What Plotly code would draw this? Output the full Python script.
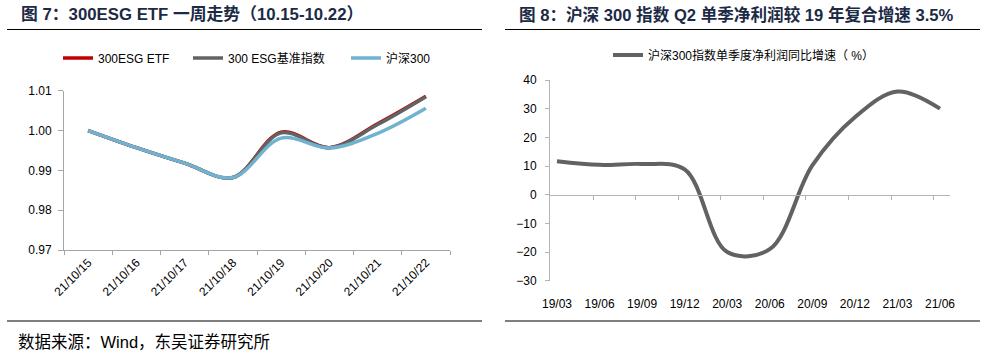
import plotly.graph_objects as go

# ---------------- data ----------------
dates = ["21/10/15", "21/10/16", "21/10/17", "21/10/18",
         "21/10/19", "21/10/20", "21/10/21", "21/10/22"]
etf = [1.0000, 0.9957, 0.9918, 0.9882, 0.9996, 0.9957, 1.0017, 1.0086]
esg_index = [1.0000, 0.9957, 0.9918, 0.9882, 0.9994, 0.9957, 1.0015, 1.0085]
hs300 = [1.0000, 0.9957, 0.9918, 0.9882, 0.9981, 0.9956, 0.9993, 1.0056]

quarters = ["19/03", "19/06", "19/09", "19/12", "20/03",
            "20/06", "20/09", "20/12", "21/03", "21/06"]
profit_growth = [11.7, 10.4, 10.7, 8.8, -20.0, -19.0, 10.2, 27.0, 36.0, 30.0]

left_title = "图 7：300ESG ETF 一周走势（10.15-10.22）"
right_title = "图 8：沪深 300 指数 Q2 单季净利润较 19 年复合增速 3.5%"
source_text = "数据来源：Wind，东吴证券研究所"

# ---------------- layout helpers ----------------
W, H = 994, 351
FONT = "Liberation Sans, Arial, Noto Sans CJK SC"
AX = "#a6a6a6"


def fx(px):
    return px / W


def fy(py):
    return 1 - py / H


fig = go.Figure()

fig.add_trace(go.Scatter(x=dates, y=etf, name="300ESG ETF", mode="lines",
                         line=dict(color="#c00000", width=3.5, shape="spline", smoothing=1),
                         xaxis="x", yaxis="y", legend="legend"))
fig.add_trace(go.Scatter(x=dates, y=esg_index, name="300 ESG基准指数", mode="lines",
                         line=dict(color="#636363", width=3.5, shape="spline", smoothing=1),
                         xaxis="x", yaxis="y", legend="legend2"))
fig.add_trace(go.Scatter(x=dates, y=hs300, name="沪深300", mode="lines",
                         line=dict(color="#6fb3d1", width=3.5, shape="spline", smoothing=1),
                         xaxis="x", yaxis="y", legend="legend3"))
fig.add_trace(go.Scatter(x=quarters, y=profit_growth, name="沪深300指数单季度净利润同比增速（ %）",
                         mode="lines",
                         line=dict(color="#626262", width=4, shape="spline", smoothing=1),
                         xaxis="x2", yaxis="y2", legend="legend4"))
# invisible helper trace so that the zero-crossing axis (x3) is drawn
fig.add_trace(go.Scatter(x=[None], y=[None], mode="lines", showlegend=False,
                         hoverinfo="skip", xaxis="x3", yaxis="y2"))

y2_range = [-30, 40]
y2_dom = [fy(280.7), fy(80)]
zero_pos = y2_dom[0] + (y2_dom[1] - y2_dom[0]) * (0 - y2_range[0]) / (y2_range[1] - y2_range[0])
x2_range = [-0.164, 9.235]

legend_common = dict(orientation="h", bgcolor="rgba(0,0,0,0)", borderwidth=0,
                     font=dict(family=FONT, size=12, color="#000000"),
                     xanchor="left", yanchor="middle")

fig.update_layout(
    width=W, height=H,
    margin=dict(l=0, r=0, t=0, b=0, autoexpand=False),
    paper_bgcolor="white", plot_bgcolor="white",
    font=dict(family=FONT, size=12, color="#000000"),
    showlegend=True,
    legend=dict(x=fx(58), y=fy(58), **legend_common),
    legend2=dict(x=fx(188), y=fy(58), **legend_common),
    legend3=dict(x=fx(346), y=fy(58), **legend_common),
    legend4=dict(x=fx(608), y=fy(55), **legend_common),
    xaxis=dict(domain=[fx(64), fx(450)], anchor="y", type="category",
               range=[-0.5, len(dates) - 0.5], automargin=False,
               showline=True, linecolor=AX, linewidth=1,
               ticks="outside", ticklen=4, tickcolor=AX, tickson="boundaries",
               tickangle=-45, showgrid=False, zeroline=False,
               tickfont=dict(family=FONT, size=12, color="#000000")),
    yaxis=dict(domain=[fy(250), fy(90.7)], anchor="x", automargin=False,
               range=[0.97, 1.01], dtick=0.01, tickformat=".2f",
               showline=True, linecolor=AX, linewidth=1,
               ticks="outside", ticklen=5, tickcolor=AX, ticklabelstandoff=4,
               showgrid=False, zeroline=False,
               tickfont=dict(family=FONT, size=12, color="#000000")),
    xaxis2=dict(domain=[fx(550), fx(950)], anchor="y2", type="category",
                range=x2_range, showline=False, ticks="", showgrid=False,
                zeroline=False, ticklabelstandoff=14, automargin=False,
                tickfont=dict(family=FONT, size=12, color="#000000")),
    xaxis3=dict(domain=[fx(550), fx(950)], anchor="free", position=zero_pos,
                overlaying="x2", type="linear", range=x2_range, automargin=False,
                showline=True, linecolor="#b3b3b3", linewidth=1,
                ticks="outside", ticklen=4, tickcolor="#b3b3b3",
                tickvals=[i + 0.85 for i in range(len(quarters) - 1)],
                showticklabels=False, showgrid=False, zeroline=False),
    yaxis2=dict(domain=y2_dom, anchor="x2", range=y2_range, dtick=10, automargin=False,
                showline=True, linecolor="#b3b3b3", linewidth=1,
                ticks="outside", ticklen=4, tickcolor="#b3b3b3", ticklabelstandoff=6,
                showgrid=False, zeroline=False,
                tickfont=dict(family=FONT, size=12, color="#000000")),
)

# titles
TITLE_COLOR = "#1c2a45"
fig.add_annotation(text="<b>" + left_title + "</b>", xref="paper", yref="paper",
                   x=fx(19), y=fy(15), xanchor="left", yanchor="middle", showarrow=False,
                   font=dict(family=FONT, size=16.8, color=TITLE_COLOR))
fig.add_annotation(text="<b>" + right_title + "</b>", xref="paper", yref="paper",
                   x=fx(517), y=fy(15), xanchor="left", yanchor="middle", showarrow=False,
                   font=dict(family=FONT, size=16.6, color=TITLE_COLOR))
fig.add_annotation(text=source_text, xref="paper", yref="paper",
                   x=fx(16), y=fy(342), xanchor="left", yanchor="middle", showarrow=False,
                   font=dict(family=FONT, size=16.5, color="#000000"))

# rules
for (x0, x1) in [(7, 482), (505, 980)]:
    for yy in (29.5, 321):
        fig.add_shape(type="line", xref="paper", yref="paper",
                      x0=fx(x0), x1=fx(x1), y0=fy(yy), y1=fy(yy),
                      line=dict(color="#000000", width=1.2))

fig.write_html("out.html")
